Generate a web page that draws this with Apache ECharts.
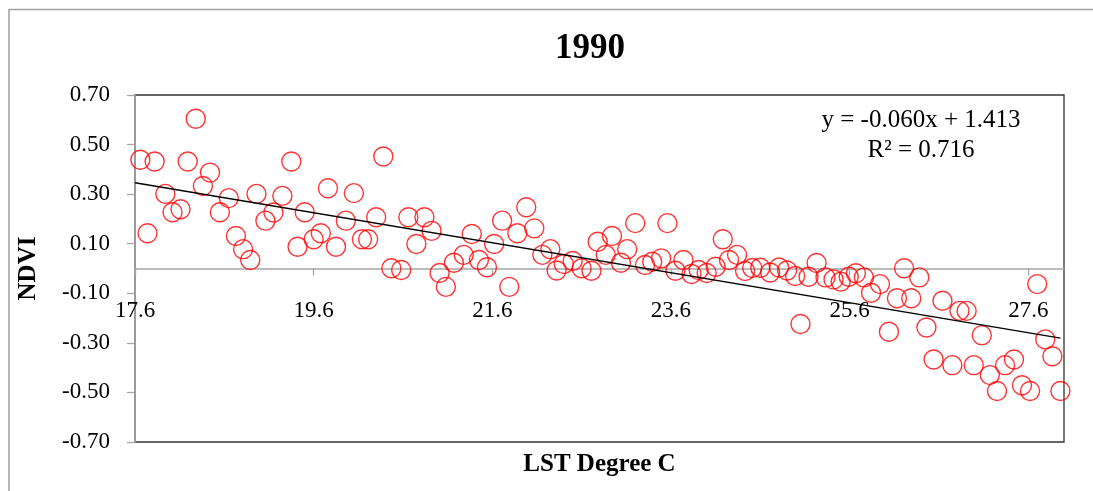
<!DOCTYPE html>
<html>
<head>
<meta charset="utf-8">
<script src="https://cdn.jsdelivr.net/npm/echarts@6/dist/echarts.min.js"></script>
<style>
html,body{margin:0;padding:0;background:#fff;}
#chart{width:1093px;height:491px;}
</style>
</head>
<body>
<div id="chart"></div>
<script>
var chartTitle = '1990';
var xAxisName = 'LST Degree C';
var yAxisName = 'NDVI';
var equationText = 'y = -0.060x + 1.413';
var r2Text = 'R\u00B2 = 0.716';

var xTicks = [17.6, 19.6, 21.6, 23.6, 25.6, 27.6];
var yTicks = [-0.7, -0.5, -0.3, -0.1, 0.1, 0.3, 0.5, 0.7];

var lstValues = [
  17.66, 17.74, 17.82, 17.94, 18.02, 18.11, 18.19, 18.28, 18.36, 18.44,
  18.55, 18.65, 18.73, 18.81, 18.89, 18.96, 19.06, 19.15, 19.25, 19.35,
  19.42, 19.50, 19.60, 19.68, 19.76, 19.85, 19.96, 20.05, 20.14, 20.21,
  20.30, 20.38, 20.47, 20.58, 20.66, 20.75, 20.84, 20.92, 21.01, 21.08,
  21.17, 21.28, 21.37, 21.45, 21.54, 21.62, 21.71, 21.79, 21.88, 21.98,
  22.07, 22.16, 22.25, 22.32, 22.40, 22.50, 22.60, 22.71, 22.78, 22.87,
  22.94, 23.04, 23.11, 23.20, 23.31, 23.39, 23.49, 23.56, 23.65, 23.74,
  23.83, 23.91, 24.00, 24.10, 24.18, 24.25, 24.34, 24.43, 24.51, 24.60,
  24.71, 24.81, 24.90, 24.99, 25.05, 25.14, 25.23, 25.33, 25.42, 25.50,
  25.59, 25.67, 25.76, 25.84, 25.94, 26.04, 26.13, 26.21, 26.29, 26.38,
  26.46, 26.54, 26.64, 26.75, 26.83, 26.91, 26.99, 27.08, 27.17, 27.25,
  27.34, 27.44, 27.53, 27.62, 27.70, 27.79, 27.87, 27.96
];
var ndviValues = [
  0.439, 0.142, 0.432, 0.301, 0.227, 0.239, 0.432, 0.604, 0.333, 0.387,
  0.227, 0.284, 0.131, 0.078, 0.034, 0.301, 0.193, 0.226, 0.293, 0.432,
  0.088, 0.227, 0.118, 0.142, 0.324, 0.088, 0.193, 0.304, 0.118, 0.118,
  0.207, 0.452, 0.001, -0.006, 0.207, 0.099, 0.207, 0.152, -0.018, -0.074,
  0.023, 0.055, 0.139, 0.034, 0.005, 0.099, 0.193, -0.074, 0.142, 0.247,
  0.162, 0.055, 0.078, -0.008, 0.018, 0.030, 0.001, -0.009, 0.108, 0.055,
  0.131, 0.023, 0.078, 0.183, 0.014, 0.027, 0.041, 0.183, -0.009, 0.034,
  -0.022, -0.006, -0.018, 0.007, 0.118, 0.034, 0.055, -0.010, 0.002, 0.003,
  -0.016, 0.004, -0.008, -0.030, -0.224, -0.033, 0.022, -0.036, -0.044, -0.053,
  -0.033, -0.019, -0.036, -0.098, -0.063, -0.255, -0.120, 0.001, -0.120, -0.036,
  -0.238, -0.367, -0.130, -0.390, -0.171, -0.171, -0.390, -0.269, -0.430, -0.494,
  -0.390, -0.367, -0.471, -0.494, -0.063, -0.286, -0.354, -0.494
];
var trendX = [17.6, 27.96];
var trendY = [0.346, -0.281];

var points = lstValues.map(function (x, i) { return [x, ndviValues[i]]; });
var trendPoints = trendX.map(function (x, i) { return [x, trendY[i]]; });

var serif = '"Liberation Serif", "Times New Roman", serif';

var gridTop = 95, gridBottom = 49, chartH = 491;
var yMin = -0.7, yMax = 0.7;
// place the x axis line where y = 0 (the axis crosses at zero)
var plotH = chartH - gridTop - gridBottom;
var zeroOffset = -plotH * (0 - yMin) / (yMax - yMin);

var chart = echarts.init(document.getElementById('chart'), null, {renderer: 'canvas'});
chart.setOption({
  animation: false,
  backgroundColor: '#ffffff',
  title: {
    text: chartTitle,
    left: 555,
    top: 31,
    padding: 0,
    textStyle: {fontFamily: serif, fontWeight: 'bold', fontSize: 35, color: '#000'}
  },
  grid: {
    left: 135, right: 29, top: gridTop, bottom: gridBottom,
    show: true, borderColor: '#333333', borderWidth: 1.3,
    backgroundColor: 'transparent',
    outerBoundsMode: 'none', containLabel: false
  },
  xAxis: {
    type: 'value',
    min: 17.6, max: 28,
    position: 'bottom',
    offset: zeroOffset,
    name: xAxisName,
    nameLocation: 'middle',
    nameGap: 184,
    nameMoveOverlap: false,
    nameTextStyle: {fontFamily: serif, fontWeight: 'bold', fontSize: 25, color: '#000'},
    axisLine: {onZero: false, lineStyle: {color: '#A6A6A6', width: 1.5}},
    axisTick: {show: true, inside: false, length: 7, customValues: xTicks, lineStyle: {color: '#A6A6A6', width: 1.3}},
    axisLabel: {
      customValues: xTicks, margin: 31,
      fontFamily: serif, fontSize: 23, color: '#000',
      formatter: function (v) { return Number(v).toFixed(1); }
    },
    splitLine: {show: false}
  },
  yAxis: {
    type: 'value',
    min: yMin, max: yMax,
    name: yAxisName,
    nameLocation: 'middle',
    nameGap: 94,
    nameTextStyle: {fontFamily: serif, fontWeight: 'bold', fontSize: 25, color: '#000'},
    axisLine: {show: true, onZero: false, lineStyle: {color: '#A6A6A6', width: 1.5}},
    axisTick: {show: true, inside: false, length: 8, customValues: yTicks, lineStyle: {color: '#A6A6A6', width: 1.3}},
    axisLabel: {
      customValues: yTicks, margin: 25,
      fontFamily: serif, fontSize: 23, color: '#000',
      formatter: function (v) { return Number(v).toFixed(2); }
    },
    splitLine: {show: false}
  },
  series: [
    {
      type: 'scatter',
      data: points,
      symbol: 'circle',
      symbolSize: 19,
      itemStyle: {color: 'rgba(255,255,255,0)', borderColor: '#FF0000', borderWidth: 1.4},
      emphasis: {disabled: true},
      z: 3
    },
    {
      type: 'line',
      data: trendPoints,
      showSymbol: false,
      symbol: 'none',
      lineStyle: {color: '#000000', width: 1.3},
      emphasis: {disabled: true},
      z: 4
    }
  ],
  graphic: [
    {
      type: 'rect',
      shape: {x: 9, y: 9.5, width: 1100, height: 500},
      style: {fill: 'none', stroke: '#A0A0A0', lineWidth: 1.5},
      silent: true
    },
    {
      type: 'text',
      x: 921, y: 120,
      style: {text: equationText, fontFamily: serif, fontSize: 25, fill: '#000', textAlign: 'center', textVerticalAlign: 'middle'},
      silent: true
    },
    {
      type: 'text',
      x: 921, y: 150,
      style: {text: r2Text, fontFamily: serif, fontSize: 25, fill: '#000', textAlign: 'center', textVerticalAlign: 'middle'},
      silent: true
    }
  ]
});
</script>
</body>
</html>
